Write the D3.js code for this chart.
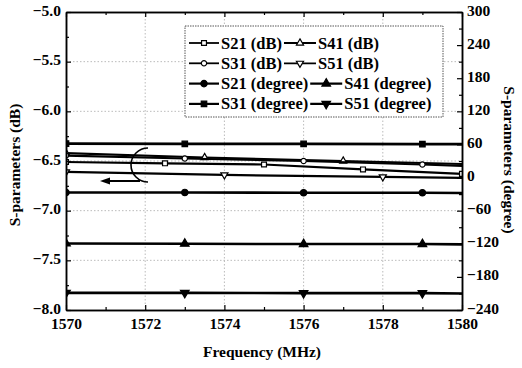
<!DOCTYPE html>
<html>
<head>
<meta charset="utf-8">
<script src="https://cdn.jsdelivr.net/npm/d3@7"></script>
<style>
  body { margin: 0; background: #fff; }
</style>
</head>
<body>
<script>
// data
const xTicks = [1570, 1572, 1574, 1576, 1578, 1580]
const dbTicks = [-8.0, -7.5, -7.0, -6.5, -6.0, -5.5, -5.0]
const degTicks = [-240, -180, -120, -60, 0, 60, 120, 180, 240, 300]

// dB curves (left axis)
const s21dbF = [1570, 1572.5, 1575, 1577.5, 1580]
const s21dbV = [-6.51, -6.523, -6.535, -6.585, -6.63]
const s31dbF = [1570, 1573, 1576, 1579, 1580]
const s31dbV = [-6.445, -6.475, -6.50, -6.535, -6.55]
const s41dbF = [1570, 1573.5, 1577, 1580]
const s41dbV = [-6.42, -6.465, -6.50, -6.53]
const s51dbF = [1570, 1574, 1578, 1580]
const s51dbV = [-6.61, -6.64, -6.66, -6.67]

// phase curves (right axis)
const degF = [1570, 1573, 1576, 1579, 1580]
const s21degV = [-27, -27, -27.5, -27.5, -28]
const s31degV = [61.5, 61, 61, 60.5, 60.5]
const s41degV = [-119.5, -120, -120.5, -120.5, -121]
const s51degV = [-209, -209, -209.5, -209.5, -210]

const W = 522, H = 368
const L = 66, R = 462, T = 12, B = 310
const FONT = "'Liberation Serif', 'Times New Roman', Times, serif"

const svg = d3.select("body").append("svg").attr("width", W).attr("height", H)
  .style("font-family", FONT).style("font-weight", "bold")

const x = d3.scaleLinear().domain([1570, 1580]).range([L, R])
const yL = d3.scaleLinear().domain([-8, -5]).range([B, T])
const yR = d3.scaleLinear().domain([-240, 300]).range([B, T])

svg.append("clipPath").attr("id", "plot")
  .append("rect").attr("x", L).attr("y", T).attr("width", R - L).attr("height", B - T)

// grid
const grid = svg.append("g").attr("stroke", "#aaa").attr("stroke-width", 0.8).attr("stroke-dasharray", "1.5,2")
grid.selectAll(".gx").data(xTicks.slice(1, -1)).enter().append("line")
  .attr("x1", d => x(d)).attr("x2", d => x(d)).attr("y1", T).attr("y2", B)
grid.selectAll(".gy").data(dbTicks.slice(1, -1)).enter().append("line")
  .attr("y1", d => yL(d)).attr("y2", d => yL(d)).attr("x1", L).attr("x2", R)

// series
const sym = {
  square: d3.symbol().type(d3.symbolSquare).size(24),
  circle: d3.symbol().type(d3.symbolCircle).size(22),
  tri: d3.symbol().type(d3.symbolTriangle).size(22),
  fsquare: d3.symbol().type(d3.symbolSquare).size(30),
  fcircle: d3.symbol().type(d3.symbolCircle).size(32),
  ftri: d3.symbol().type(d3.symbolTriangle).size(32)
}
const series = [
  {name: "S31 (degree)", f: degF, v: s31degV, y: yR, mk: "fsquare", fill: "#000", w: 2.6},
  {name: "S21 (degree)", f: degF, v: s21degV, y: yR, mk: "fcircle", fill: "#000", w: 2.6},
  {name: "S41 (degree)", f: degF, v: s41degV, y: yR, mk: "ftri", fill: "#000", w: 2.6},
  {name: "S51 (degree)", f: degF, v: s51degV, y: yR, mk: "ftri", fill: "#000", w: 2.6, flip: true},
  {name: "S41 (dB)", f: s41dbF, v: s41dbV, y: yL, mk: "tri", fill: "#fff", w: 2.2},
  {name: "S31 (dB)", f: s31dbF, v: s31dbV, y: yL, mk: "circle", fill: "#fff", w: 2.2},
  {name: "S21 (dB)", f: s21dbF, v: s21dbV, y: yL, mk: "square", fill: "#fff", w: 2.2},
  {name: "S51 (dB)", f: s51dbF, v: s51dbV, y: yL, mk: "tri", fill: "#fff", w: 2.2, flip: true}
]

const plot = svg.append("g").attr("clip-path", "url(#plot)")
series.forEach(s => {
  const pts = s.f.map((f, i) => [f, s.v[i]])
  plot.append("path").datum(pts)
    .attr("fill", "none").attr("stroke", "#000").attr("stroke-width", s.w)
    .attr("d", d3.line().x(d => x(d[0])).y(d => s.y(d[1])))
  // the last point at 1580 is only a line end, except for S21 (dB) whose marker sits there
  const marks = s.name === "S21 (dB)" ? pts : pts.slice(0, -1)
  plot.selectAll(null).data(marks).enter().append("path")
    .attr("d", sym[s.mk])
    .attr("transform", d => `translate(${x(d[0])},${s.y(d[1])})` + (s.flip ? " rotate(180)" : ""))
    .attr("fill", s.fill).attr("stroke", "#000").attr("stroke-width", 1.2)
})

// axes
function styleAxis(g) {
  g.attr("font-family", FONT).attr("font-weight", "bold")
  g.select(".domain").attr("stroke", "#000").attr("stroke-width", 1.5)
  g.selectAll(".tick line").attr("stroke", "#000").attr("stroke-width", 1.2)
  g.selectAll("text").attr("font-size", 15.5).attr("fill", "#000")
}
const minorX = d3.range(1571, 1580, 2)
svg.append("g").attr("transform", `translate(0,${B})`)
  .call(d3.axisBottom(x).tickValues(xTicks).tickFormat(d3.format("d")).tickSize(-5).tickSizeOuter(0).tickPadding(8))
  .call(styleAxis)
svg.append("g").attr("transform", `translate(0,${B})`)
  .call(d3.axisBottom(x).tickValues(minorX).tickFormat("").tickSize(-3).tickSizeOuter(0)).call(styleAxis)
svg.append("g").attr("transform", `translate(0,${T})`)
  .call(d3.axisTop(x).tickValues(xTicks).tickFormat("").tickSize(-5).tickSizeOuter(0)).call(styleAxis)
svg.append("g").attr("transform", `translate(0,${T})`)
  .call(d3.axisTop(x).tickValues(minorX).tickFormat("").tickSize(-3).tickSizeOuter(0)).call(styleAxis)

const minorDb = d3.range(-7.75, -5, 0.5)
svg.append("g").attr("transform", `translate(${L},0)`)
  .call(d3.axisLeft(yL).tickValues(dbTicks).tickFormat(d3.format(".1f")).tickSize(-5).tickSizeOuter(0).tickPadding(5))
  .call(styleAxis)
  .selectAll("text").attr("dy", "0.2em")
svg.append("g").attr("transform", `translate(${L},0)`)
  .call(d3.axisLeft(yL).tickValues(minorDb).tickFormat("").tickSize(-3).tickSizeOuter(0)).call(styleAxis)

const minorDeg = d3.range(-210, 300, 60)
svg.append("g").attr("transform", `translate(${R},0)`)
  .call(d3.axisRight(yR).tickValues(degTicks).tickFormat(d3.format("d")).tickSize(-5).tickSizeOuter(0).tickPadding(5))
  .call(styleAxis)
  .selectAll("text").attr("dy", "0.2em")
svg.append("g").attr("transform", `translate(${R},0)`)
  .call(d3.axisRight(yR).tickValues(minorDeg).tickFormat("").tickSize(-3).tickSizeOuter(0)).call(styleAxis)

// axis titles
svg.append("text").attr("x", (L + R) / 2 - 2).attr("y", 357).attr("text-anchor", "middle")
  .attr("font-size", 15.5).text("Frequency (MHz)")
svg.append("text").attr("transform", "translate(20,165) rotate(-90)").attr("text-anchor", "middle")
  .attr("font-size", 15.5).text("S-parameters (dB)")
svg.append("text").attr("transform", "translate(504,160) rotate(90)").attr("text-anchor", "middle")
  .attr("font-size", 15.5).text("S-parameters (degree)")

// annotation: bracket and arrow pointing to the left axis
const ann = svg.append("g").attr("fill", "none").attr("stroke", "#000").attr("stroke-width", 1.6)
const cx = 146, cy = 165, rx = 17, ry = 17
ann.append("path").attr("d", `M${cx + 2},${cy - ry} A${rx},${ry} 0 1 0 ${cx + 2},${cy + ry}`)
ann.append("line").attr("x1", 140).attr("y1", 181).attr("x2", 104).attr("y2", 181).attr("stroke-width", 1.8)
svg.append("path").attr("d", "M100,181 L110,177.5 L110,184.5 Z").attr("fill", "#000")

// legend
const leg = svg.append("g")
leg.append("rect").attr("x", 185).attr("y", 26).attr("width", 258).attr("height", 91)
  .attr("fill", "#fff").attr("stroke", "#444").attr("stroke-width", 0.9).attr("stroke-dasharray", "1.5,1")
const rows = [["S21 (dB)", "S41 (dB)"], ["S31 (dB)", "S51 (dB)"], ["S21 (degree)", "S41 (degree)"], ["S31 (degree)", "S51 (degree)"]]
rows.forEach((row, r) => {
  const yy = 43 + r * 20.3
  let xx = 189
  row.forEach((name, c) => {
    const s = series.find(d => d.name === name)
    const len = c === 0 ? 30 : 32
    leg.append("line").attr("x1", xx).attr("x2", xx + len).attr("y1", yy).attr("y2", yy)
      .attr("stroke", "#000").attr("stroke-width", s.w - 0.4)
    leg.append("path").attr("d", sym[s.mk])
      .attr("transform", `translate(${xx + len / 2},${yy})` + (s.flip ? " rotate(180)" : ""))
      .attr("fill", s.fill).attr("stroke", "#000").attr("stroke-width", 1.2)
    const t = leg.append("text").attr("x", xx + len + 2).attr("y", yy + 5.5).attr("font-size", 16.5).text(name)
    xx += len + 2 + t.node().getComputedTextLength() + 2
  })
})
</script>
</body>
</html>
